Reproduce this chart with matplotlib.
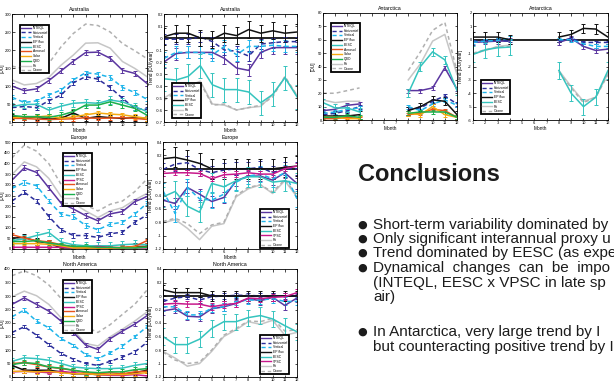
import numpy as np
import matplotlib
matplotlib.use("Agg")
import matplotlib.pyplot as plt
from matplotlib.lines import Line2D
from matplotlib.ticker import FuncFormatter

plt.rcParams['font.family'] = ['Liberation Sans', 'DejaVu Sans']

W, H = 614, 381
months = np.arange(1, 13)
nan = np.nan

# colour, line style, has error bars
STYLE = {
    'INTEQL': ('#5b36a0', '-', True),
    'Horizontal': ('#2c2f9c', (0, (3, 2)), True),
    'Vertical': ('#1eb4ea', (0, (3, 2)), True),
    'EP flux': ('#111111', '-', True),
    'EESC': ('#35c4be', '-', True),
    'VPSC': ('#c8198c', '-', True),
    'Aerosol': ('#e8521c', '-', True),
    'Solar': ('#f5aa10', '-', True),
    'QBO': ('#1bb04c', '-', True),
    'Fit': ('#c6c6c6', '-', False),
    'Ozone': ('#b0b0b0', (0, (2.5, 2)), False),
}

##### Australia #####
aus_clim = {
    'INTEQL': [100, 87, 92, 115, 142, 169, 193, 194, 177, 144, 135, 107],
    'Horizontal': [40, 43, 40, 59, 75, 109, 126, 119, 96, 66, 38, 35],
    'Vertical': [69, 54, 59, 75, 89, 117, 137, 133, 124, 96, 82, 63],
    'EP flux': [15, 14, 13, 8, 10, 25, 10, 15, 12, 10, 12, 10],
    'EESC': [43, 49, 49, 33, 44, 52, 54, 52, 61, 56, 43, 29],
    'Aerosol': [10, 10, 8, 7, 8, 9, 12, 10, 11, 12, 10, 7],
    'Solar': [12, 15, 14, 17, 10, 14, 20, 25, 22, 20, 15, 10],
    'QBO': [18, 15, 15, 13, 19, 29, 47, 47, 56, 47, 38, 19],
    'Fit': [117, 103, 107, 124, 158, 186, 219, 220, 205, 168, 149, 126],
    'Ozone': [155, 148, 150, 163, 209, 246, 272, 268, 250, 218, 198, 176],
}
aus_clim_err = {'INTEQL': 7, 'Horizontal': 6, 'Vertical': 6, 'EP flux': 8,
                'EESC': 10, 'Aerosol': 5, 'Solar': 6, 'QBO': 8}

aus_trend = {
    'INTEQL': [-0.20, -0.13, -0.12, -0.12, -0.12, -0.17, -0.25, -0.27, -0.12, -0.08, -0.08, -0.08],
    'Horizontal': [-0.01, -0.01, -0.01, 0.01, -0.03, -0.10, -0.11, -0.15, -0.05, -0.04, -0.03, -0.03],
    'Vertical': [-0.17, -0.12, -0.12, -0.12, -0.14, -0.07, -0.14, -0.07, -0.07, -0.06, -0.07, -0.07],
    'EP flux': [0.01, 0.04, 0.04, 0.00, -0.01, 0.04, 0.02, 0.07, 0.04, 0.06, 0.04, 0.05],
    'EESC': [-0.34, -0.35, -0.32, -0.23, -0.39, -0.43, -0.43, -0.45, -0.54, -0.47, -0.33, -0.49],
    'Fit': [-0.50, -0.44, -0.40, -0.36, -0.55, -0.56, -0.60, -0.58, -0.57, -0.47, -0.33, -0.48],
    'Ozone': [-0.52, -0.45, -0.41, -0.37, -0.56, -0.55, -0.60, -0.58, -0.56, -0.49, -0.32, -0.48],
}
aus_trend_err = {'INTEQL': 0.05, 'Horizontal': 0.04, 'Vertical': 0.05,
                 'EP flux': 0.07, 'EESC': 0.1}

##### Antarctica #####
ant_clim = {
    'INTEQL': [7, 8, 11, 12, nan, nan, nan, 22, 22, 24, 39, 23],
    'Horizontal': [4, 5, 7, 10, nan, nan, nan, 8, 9, 14, 18, 12],
    'Vertical': [5, 6, 8, 9, nan, nan, nan, 10, 7, 12, 15, 11],
    'EP flux': [3, 3, 3, 4, nan, nan, nan, 7, 10, 15, 14, 4],
    'EESC': [13, 9, 9, 6, nan, nan, nan, 20, 40, 51, 45, 22],
    'Aerosol': [1, 1, 2, 1, nan, nan, nan, 4, 5, 8, 7, 2],
    'Solar': [2, 2, 1, 1, nan, nan, nan, 5, 4, 10, 4, 2],
    'QBO': [2, 2, 3, 2, nan, nan, nan, 5, 6, 6, 6, 2],
    'Fit': [15, 13, 14, 14, nan, nan, nan, 30, 42, 59, 64, 34],
    'Ozone': [20, 20, 22, 24, nan, nan, nan, 37, 51, 67, 73, 36],
}
ant_clim_err = {'INTEQL': 1.5, 'Horizontal': 1.5, 'Vertical': 1.5, 'EP flux': 3,
                'EESC': 3, 'Aerosol': 1, 'Solar': 2, 'QBO': 1.5}

ant_trend = {
    'INTEQL': [-0.2, -0.15, -0.1, -0.1, nan, nan, nan, -0.2, 0.1, -0.5, -0.8, -0.7],
    'Horizontal': [-0.1, -0.1, -0.05, -0.1, nan, nan, nan, -0.1, 0.1, -0.2, -0.2, -0.2],
    'Vertical': [-0.2, -0.1, -0.05, 0.1, nan, nan, nan, 0.0, 0.0, -0.3, -0.5, -0.5],
    'EP flux': [0.2, 0.2, 0.2, 0.0, nan, nan, nan, 0.2, 0.4, 0.85, 0.8, 0.2],
    'EESC': [-1.1, -0.75, -0.6, -0.55, nan, nan, nan, -2.3, -4.0, -5.0, -4.3, -2.3],
    'Fit': [-1.05, -0.8, -0.5, -0.4, nan, nan, nan, -2.3, -3.5, -4.6, -4.3, -2.5],
    'Ozone': [-1.0, -0.75, -0.55, -0.5, nan, nan, nan, -2.4, -3.6, -4.7, -4.3, -2.6],
}
ant_trend_err = {'INTEQL': 0.2, 'Horizontal': 0.1, 'Vertical': 0.15,
                 'EP flux': 0.35, 'EESC': 0.6}

##### Europe #####
eur_clim = {
    'INTEQL': [322, 379, 358, 286, 214, 187, 156, 132, 164, 175, 221, 245],
    'Horizontal': [224, 265, 224, 152, 90, 63, 63, 54, 71, 79, 125, 159],
    'Vertical': [283, 311, 296, 224, 163, 152, 110, 90, 116, 125, 163, 214],
    'EP flux': [51, 54, 36, 28, 5, 5, 5, 5, 5, 5, 12, 12],
    'EESC': [39, 48, 63, 77, 33, 20, 15, 15, 15, 20, 23, 20],
    'VPSC': [8, 8, 8, 8, 8, 5, 8, 12, 8, 5, 5, 5],
    'Aerosol': [67, 51, 39, 33, 20, 8, 5, 5, 5, 8, 12, 39],
    'Solar': [25, 25, 25, 22, 15, 5, 5, 5, 5, 5, 8, 8],
    'QBO': [35, 35, 39, 28, 20, 12, 12, 8, 8, 5, 5, 8],
    'Fit': [348, 407, 384, 330, 245, 214, 178, 147, 178, 193, 229, 260],
    'Ozone': [426, 485, 457, 399, 302, 245, 206, 178, 209, 224, 268, 327],
}
eur_clim_err = {'INTEQL': 12, 'Horizontal': 10, 'Vertical': 10, 'EP flux': 15,
                'EESC': 18, 'VPSC': 5, 'Aerosol': 10, 'Solar': 8, 'QBO': 10}

eur_trend = {
    'INTEQL': [-0.47, -0.52, -0.28, -0.38, -0.49, -0.43, -0.18, -0.11, -0.11, -0.17, -0.06, -0.22],
    'Horizontal': [-0.01, 0.07, 0.09, -0.01, -0.06, -0.02, 0.0, 0.0, 0.02, -0.06, 0.0, 0.0],
    'Vertical': [-0.33, -0.67, -0.28, -0.45, -0.47, -0.38, -0.20, -0.11, -0.08, -0.15, -0.06, -0.45],
    'EP flux': [0.15, 0.17, 0.13, 0.08, 0.0, 0.0, 0.0, 0.0, 0.0, 0.0, 0.02, 0.04],
    'EESC': [-0.42, -0.34, -0.56, -0.65, -0.22, -0.27, -0.18, -0.12, -0.12, -0.20, -0.18, -0.22],
    'VPSC': [-0.07, -0.06, -0.06, -0.07, -0.15, -0.09, -0.08, -0.06, -0.08, -0.08, 0.0, 0.04],
    'Fit': [-0.81, -0.76, -0.89, -1.06, -0.86, -0.82, -0.42, -0.30, -0.24, -0.37, -0.18, -0.42],
    'Ozone': [-0.79, -0.74, -0.82, -0.97, -0.84, -0.80, -0.40, -0.28, -0.24, -0.35, -0.16, -0.40],
}
eur_trend_err = {'INTEQL': 0.08, 'Horizontal': 0.1, 'Vertical': 0.12,
                 'EP flux': 0.15, 'EESC': 0.15, 'VPSC': 0.04}

##### North America #####
na_clim = {
    'INTEQL': [269, 293, 269, 244, 207, 165, 118, 102, 142, 170, 196, 227],
    'Horizontal': [165, 186, 155, 120, 87, 66, 50, 43, 58, 74, 93, 128],
    'Vertical': [223, 248, 207, 182, 142, 118, 83, 68, 90, 115, 149, 186],
    'EP flux': [43, 25, 25, 25, 19, 12, 12, 9, 9, 9, 16, 25],
    'EESC': [58, 71, 68, 62, 50, 37, 33, 31, 31, 33, 43, 50],
    'VPSC': [19, 21, 19, 16, 21, 16, 12, 9, 6, 6, 9, 4],
    'Aerosol': [50, 53, 46, 37, 31, 25, 16, 12, 16, 12, 19, 21],
    'Solar': [21, 21, 19, 21, 16, 12, 12, 9, 9, 9, 12, 16],
    'QBO': [46, 53, 50, 37, 33, 25, 19, 16, 19, 19, 27, 31],
    'Fit': [297, 318, 301, 269, 219, 173, 124, 115, 149, 177, 207, 241],
    'Ozone': [375, 393, 375, 341, 291, 241, 186, 165, 194, 232, 269, 322],
}
na_clim_err = {'INTEQL': 8, 'Horizontal': 6, 'Vertical': 6, 'EP flux': 10,
               'EESC': 12, 'VPSC': 5, 'Aerosol': 8, 'Solar': 8, 'QBO': 10}

na_trend = {
    'INTEQL': [-0.22, -0.19, -0.30, -0.31, -0.19, -0.16, -0.11, -0.04, -0.07, -0.02, -0.14, -0.03],
    'Horizontal': [-0.08, -0.03, -0.01, -0.06, -0.01, 0.0, 0.01, 0.01, 0.0, 0.0, 0.0, 0.0],
    'Vertical': [-0.16, -0.16, -0.28, -0.28, -0.18, -0.16, -0.08, -0.06, -0.06, -0.04, -0.08, -0.08],
    'EP flux': [0.09, 0.05, 0.05, 0.05, 0.0, 0.0, 0.0, 0.0, 0.0, 0.0, 0.0, 0.0],
    'EESC': [-0.60, -0.72, -0.72, -0.64, -0.48, -0.38, -0.38, -0.32, -0.29, -0.34, -0.44, -0.53],
    'VPSC': [-0.12, -0.11, -0.12, -0.12, -0.16, -0.13, -0.11, -0.03, -0.04, -0.02, -0.01, 0.05],
    'Fit': [-0.82, -0.92, -1.04, -1.00, -0.82, -0.60, -0.50, -0.38, -0.42, -0.36, -0.58, -0.54],
    'Ozone': [-0.83, -0.95, -1.00, -0.98, -0.80, -0.58, -0.48, -0.37, -0.38, -0.33, -0.52, -0.50],
}
na_trend_err = {'INTEQL': 0.06, 'Horizontal': 0.04, 'Vertical': 0.06,
                'EP flux': 0.07, 'EESC': 0.12, 'VPSC': 0.05}


##### PLOT #####
fig = plt.figure(figsize=(W / 100, H / 100), dpi=100)


def px_axes(x0, y0, x1, y1):
    return fig.add_axes([x0 / W, 1 - y1 / H, (x1 - x0) / W, (y1 - y0) / H])


def plot_panel(ax, data, err, title, ylabel, ylim, ystep, legend_xy, trend=False):
    if trend:
        ax.axhline(0, color='k', lw=1.2, zorder=1.8)
    handles = []
    for name, vals in data.items():
        color, ls, has_err = STYLE[name]
        if has_err:
            ax.errorbar(months, vals, yerr=err[name], color=color, ls=ls, lw=1.1,
                        elinewidth=0.7, capsize=1.2, capthick=0.7, zorder=2)
        else:
            ax.plot(months, vals, color=color, ls=ls, lw=1.1, zorder=1.5)
        handles.append(Line2D([], [], color=color, ls=ls, lw=1.0, label=name))
    ax.set_xticks(months)
    ax.set_yticks(np.round(np.arange(ylim[0], ylim[1] + ystep / 2, ystep), 3))
    ax.set_xlim(1, 12)
    ax.set_ylim(*ylim)
    ax.yaxis.set_major_formatter(FuncFormatter(lambda v, p: f"{round(v, 2):g}"))
    ax.tick_params(direction='in', length=1.8, width=0.5, labelsize=2.9, pad=0.8,
                   top=True, right=True)
    for s in ax.spines.values():
        s.set_linewidth(0.6)
    ax.set_title(title, fontsize=3.8, pad=2)
    ax.set_ylabel(ylabel, fontsize=3.4)
    ax.yaxis.set_label_coords(-0.055 if not trend else -0.075, 0.5)
    ax.set_xlabel('Month', fontsize=3.4, labelpad=0.6)
    leg = ax.legend(handles=handles, loc='upper left', bbox_to_anchor=legend_xy,
                    fontsize=2.4, frameon=True, fancybox=False, framealpha=1,
                    edgecolor='black', borderpad=0.3, labelspacing=0.22,
                    handlelength=3.0, handletextpad=0.5, borderaxespad=0)
    leg.get_frame().set_linewidth(1.3)


ax = px_axes(12, 14, 147, 122)
plot_panel(ax, aus_clim, aus_clim_err, 'Australia', '[DU]', (0, 300), 50, (0.06, 0.9))
ax = px_axes(164, 14, 297, 122)
plot_panel(ax, aus_trend, aus_trend_err, 'Australia', 'Trend [DU/year]', (-0.7, 0.2), 0.1,
           (0.06, 0.36), trend=True)

ax = px_axes(323, 13, 457, 120)
plot_panel(ax, ant_clim, ant_clim_err, 'Antarctica', '[DU]', (0, 80), 10, (0.06, 0.907))
ax = px_axes(473, 13, 608, 120)
plot_panel(ax, ant_trend, ant_trend_err, 'Antarctica', 'Trend [DU/year]', (-6, 2), 1,
           (0.06, 0.374), trend=True)

ax = px_axes(12, 142, 147, 249)
plot_panel(ax, eur_clim, eur_clim_err, 'Europe', '[DU]', (0, 500), 50, (0.378, 0.897))
ax = px_axes(163, 142, 297, 249)
plot_panel(ax, eur_trend, eur_trend_err, 'Europe', 'Trend [DU/year]', (-1.2, 0.4), 0.2,
           (0.724, 0.374), trend=True)

ax = px_axes(12, 269, 147, 377)
plot_panel(ax, na_clim, na_clim_err, 'North America', '[DU]', (0, 400), 50, (0.378, 0.898))
ax = px_axes(163, 269, 297, 377)
plot_panel(ax, na_trend, na_trend_err, 'North America', 'Trend [DU/year]', (-1.2, 0.4), 0.2,
           (0.724, 0.389), trend=True)

# conclusions block
TXT = '#1c1c1c'
fig.text(358 / W, 1 - 175 / H, 'Conclusions', fontsize=17, fontweight='bold',
         color=TXT, va='center', ha='left')

bullets = [
    (225, True, 'Short-term variability dominated by'),
    (239, True, 'Only significant interannual proxy u'),
    (253, True, 'Trend dominated by EESC (as expe'),
    (268, True, 'Dynamical  changes  can  be  impo'),
    (283, False, '(INTEQL, EESC x VPSC in late sp'),
    (297, False, 'air)'),
    (332, True, 'In Antarctica, very large trend by I'),
    (347, False, 'but counteracting positive trend by I'),
]
for y, dot, line in bullets:
    if dot:
        fig.text(362 / W, 1 - y / H, '\u25cf', fontsize=8, color=TXT,
                 va='center', ha='center', family=['DejaVu Sans'])
    fig.text(373 / W, 1 - y / H, line, fontsize=11, color=TXT,
             va='center', ha='left')

fig.savefig('out.png', dpi=100)
